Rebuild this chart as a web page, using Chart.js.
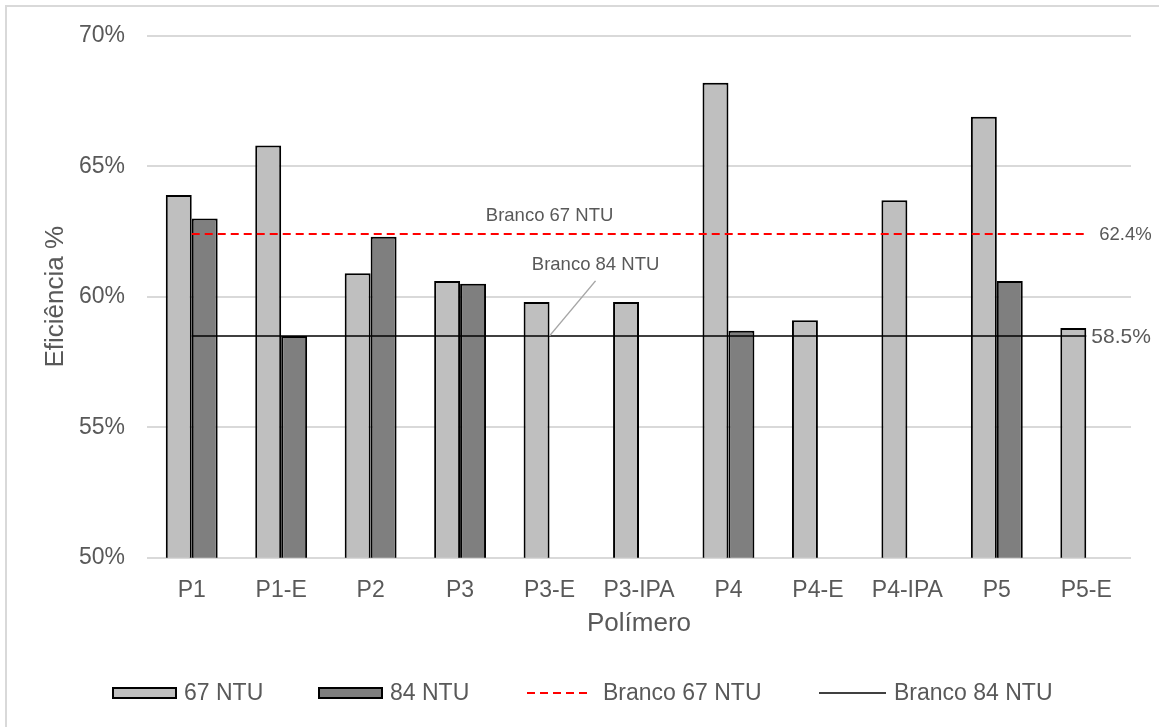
<!DOCTYPE html>
<html>
<head>
<meta charset="utf-8">
<script src="https://cdn.jsdelivr.net/npm/chart.js@4.4.0/dist/chart.umd.min.js"></script>
<style>
  html, body { margin: 0; padding: 0; background: #ffffff; overflow: hidden; }
  #wrap { position: relative; width: 1159px; height: 727px; overflow: hidden; }
  #frame { position: absolute; left: 5px; top: 5px; width: 1200px; height: 800px;
           border: 2px solid #d9d9d9; box-sizing: border-box; }
  #c { position: absolute; left: 0; top: 0; }
</style>
</head>
<body>
<div id="wrap">
  <div id="frame"></div>
  <canvas id="c" width="1159" height="727"></canvas>
</div>
<script>
// Polymer categories
const categories = ['P1', 'P1-E', 'P2', 'P3', 'P3-E', 'P3-IPA', 'P4', 'P4-E', 'P4-IPA', 'P5', 'P5-E'];

// Efficiency (%) at each turbidity
const ntu67 = [63.9, 65.8, 60.9, 60.6, 59.8, 59.8, 68.2, 59.1, 63.7, 66.9, 58.8];
const ntu84 = [63.0, 58.5, 62.3, 60.5, null, null, 58.7, null, null, 60.6, null];

// Blank references (constant across polymers)
const branco67 = [62.4, 62.4, 62.4, 62.4, 62.4, 62.4, 62.4, 62.4, 62.4, 62.4, 62.4];
const branco84 = [58.5, 58.5, 58.5, 58.5, 58.5, 58.5, 58.5, 58.5, 58.5, 58.5, 58.5];

// Value axis ticks
const yTickValues = [50, 55, 60, 65, 70];

const seriesNames = ['67 NTU', '84 NTU', 'Branco 67 NTU', 'Branco 84 NTU'];

const FONT = '"Liberation Sans", Arial, sans-serif';
const TEXT = '#595959';

// Labels on the blank lines, the leader line and the bottom legend
const annotations = {
  id: 'annotations',
  afterDatasetsDraw(chart) {
    const ctx = chart.ctx;
    const x = chart.scales.x;
    const y = chart.scales.y;
    const last = categories.length - 1;
    const mid = categories.indexOf('P3-E');
    const yb67 = y.getPixelForValue(branco67[last]);
    const yb84 = y.getPixelForValue(branco84[last]);
    const xEnd = x.getPixelForValue(last);
    const xMid = x.getPixelForValue(mid);

    ctx.save();
    ctx.fillStyle = TEXT;
    ctx.textBaseline = 'middle';

    // end-of-line values
    ctx.textAlign = 'left';
    ctx.font = '18.5px ' + FONT;
    ctx.fillText(branco67[last].toFixed(1) + '%', xEnd + 13, yb67 + 1);
    ctx.font = '21px ' + FONT;
    ctx.fillText(branco84[last].toFixed(1) + '%', xEnd + 5, yb84 + 1);

    // series names above the lines
    ctx.textAlign = 'center';
    ctx.font = '18.5px ' + FONT;
    ctx.fillText(seriesNames[2], xMid, yb67 - 18);
    ctx.fillText(seriesNames[3], xMid + 46, yb84 - 71);

    // leader line
    ctx.strokeStyle = '#a6a6a6';
    ctx.lineWidth = 1.5;
    ctx.beginPath();
    ctx.moveTo(xMid, yb84);
    ctx.lineTo(xMid + 46, yb84 - 55);
    ctx.stroke();
    ctx.restore();
  },
  afterDraw(chart) {
    const ctx = chart.ctx;
    const ds = chart.data.datasets;
    const ly = 693;
    ctx.save();
    ctx.font = '23px ' + FONT;
    ctx.fillStyle = TEXT;
    ctx.textBaseline = 'middle';
    ctx.textAlign = 'left';

    const items = [
      { x: 112, w: 65, tx: 184, d: ds[0], kind: 'box' },
      { x: 318, w: 65, tx: 390, d: ds[1], kind: 'box' },
      { x: 527, w: 65, tx: 603, d: ds[2], kind: 'line' },
      { x: 819, w: 67, tx: 894, d: ds[3], kind: 'line' }
    ];
    items.forEach(it => {
      ctx.save();
      if (it.kind === 'box') {
        ctx.fillStyle = it.d.backgroundColor;
        ctx.fillRect(it.x, ly - 6, it.w, 12);
        ctx.strokeStyle = it.d.borderColor;
        ctx.lineWidth = 2;
        ctx.strokeRect(it.x + 1, ly - 5, it.w - 2, 10);
      } else {
        ctx.strokeStyle = it.d.borderColor;
        ctx.lineWidth = it.d.borderWidth;
        ctx.setLineDash(it.d.borderDash || []);
        ctx.beginPath();
        ctx.moveTo(it.x, ly);
        ctx.lineTo(it.x + it.w, ly);
        ctx.stroke();
      }
      ctx.restore();
      ctx.fillText(it.d.label, it.tx, ly + 1);
    });
    ctx.restore();
  }
};

new Chart(document.getElementById('c'), {
  type: 'bar',
  data: {
    labels: categories,
    datasets: [
      { type: 'bar', label: seriesNames[0], data: ntu67, backgroundColor: '#bfbfbf',
        borderColor: '#000000', borderWidth: 2, order: 2 },
      { type: 'bar', label: seriesNames[1], data: ntu84, backgroundColor: '#7f7f7f',
        borderColor: '#000000', borderWidth: 2, order: 2 },
      { type: 'line', label: seriesNames[2], data: branco67, borderColor: '#ff0000',
        borderWidth: 2, borderDash: [8, 5], pointRadius: 0, fill: false, order: 0 },
      { type: 'line', label: seriesNames[3], data: branco84, borderColor: '#000000',
        borderWidth: 1.5, pointRadius: 0, fill: false, order: 1 }
    ]
  },
  options: {
    responsive: false,
    animation: false,
    devicePixelRatio: 1,
    layout: { padding: { left: 0, right: 28, top: 35, bottom: 88 } },
    datasets: { bar: { barPercentage: 1.0, categoryPercentage: 0.58 } },
    plugins: { legend: { display: false }, tooltip: { enabled: false } },
    scales: {
      x: {
        offset: true,
        grid: { display: false },
        border: { display: false },
        ticks: { color: TEXT, font: { family: FONT, size: 23 }, padding: 11,
                 maxRotation: 0, autoSkip: false },
        title: { display: true, text: 'Polímero', color: TEXT,
                 font: { family: FONT, size: 26 }, padding: { top: 0, bottom: 0 } },
        afterFit(s) { s.height = 81.3; }
      },
      y: {
        min: yTickValues[0],
        max: yTickValues[yTickValues.length - 1],
        afterBuildTicks(s) { s.ticks = yTickValues.map(v => ({ value: v })); },
        grid: { color: '#d9d9d9', lineWidth: 2, drawTicks: false },
        border: { display: false },
        ticks: { color: TEXT, font: { family: FONT, size: 23 }, padding: 22,
                 callback: v => v + '%' },
        title: { display: true, text: 'Eficiência %', color: TEXT,
                 font: { family: FONT, size: 26 }, padding: { top: 40, bottom: 0 } },
        afterFit(s) { s.width = 147; }
      }
    }
  },
  plugins: [annotations]
});
</script>
</body>
</html>
